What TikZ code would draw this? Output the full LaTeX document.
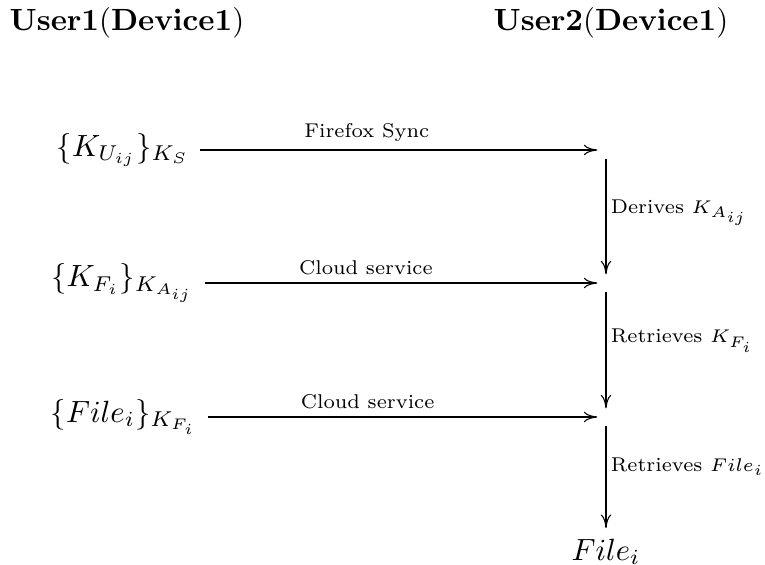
\documentclass[tikz,border=0pt]{standalone}
\usetikzlibrary{arrows.meta}
\DeclareMathSizes{6.5}{6.5}{5}{5}
\DeclareMathSizes{9.6}{9.6}{6.8}{5}
\DeclareMathSizes{10.2}{10.2}{7.2}{5}
\begin{document}
\begin{tikzpicture}[x=0.3257pt,y=-0.3257pt,
  hub/.style={inner sep=0pt,minimum size=5.2pt},
  arr/.style={-{Computer Modern Rightarrow[length=4.4pt,width=3.4pt]},line width=0.35pt},
  mainfont/.style={font=\fontsize{9.6}{11.5}\selectfont},
  headfont/.style={font=\fontsize{10.2}{12}\selectfont},
  lab/.style={font=\fontsize{6.5}{8}\selectfont,inner sep=2.6pt},
  vlab/.style={font=\fontsize{6.5}{8}\selectfont,right,inner sep=1.4pt}]
\useasboundingbox (0,0) rectangle (765,565);
\node[headfont] (h1) at (127,23) {$\mathbf{User1}(\mathbf{Device1})$};
\node[headfont] (h2) at (611,23) {$\mathbf{User2}(\mathbf{Device1})$};
\node[mainfont,anchor=east] (a1) at (200,150) {$\{K_{U_{ij}}\}_{K_S}$};
\node[mainfont,anchor=east] (a2) at (205,283) {$\{K_{F_i}\}_{K_{A_{ij}}}$};
\node[mainfont,anchor=east] (a3) at (208,417) {$\{File_i\}_{K_{F_i}}$};
\node[hub] (b1) at (606,150) {};
\node[hub] (b2) at (606,283) {};
\node[hub] (b3) at (606,417) {};
\node[mainfont,anchor=north] (fin) at (606,528) {$File_i$};
\draw[arr] (a1.east) -- node[lab,above,pos=0.42] {Firefox Sync} (b1.west);
\draw[arr] (a2.east) -- node[lab,above,pos=0.41] {Cloud service} (b2.west);
\draw[arr] (a3.east) -- node[lab,above,pos=0.41] {Cloud service} (b3.west);
\draw[arr] (b1.south) -- node[vlab,pos=0.47] {Derives $K_{A_{ij}}$} (b2.north);
\draw[arr] (b2.south) -- node[vlab,pos=0.42] {Retrieves $K_{F_i}$} (b3.north);
\draw[arr] (b3.south) -- node[vlab,pos=0.4] {Retrieves $File_i$} (fin.north);
\end{tikzpicture}
\end{document}
